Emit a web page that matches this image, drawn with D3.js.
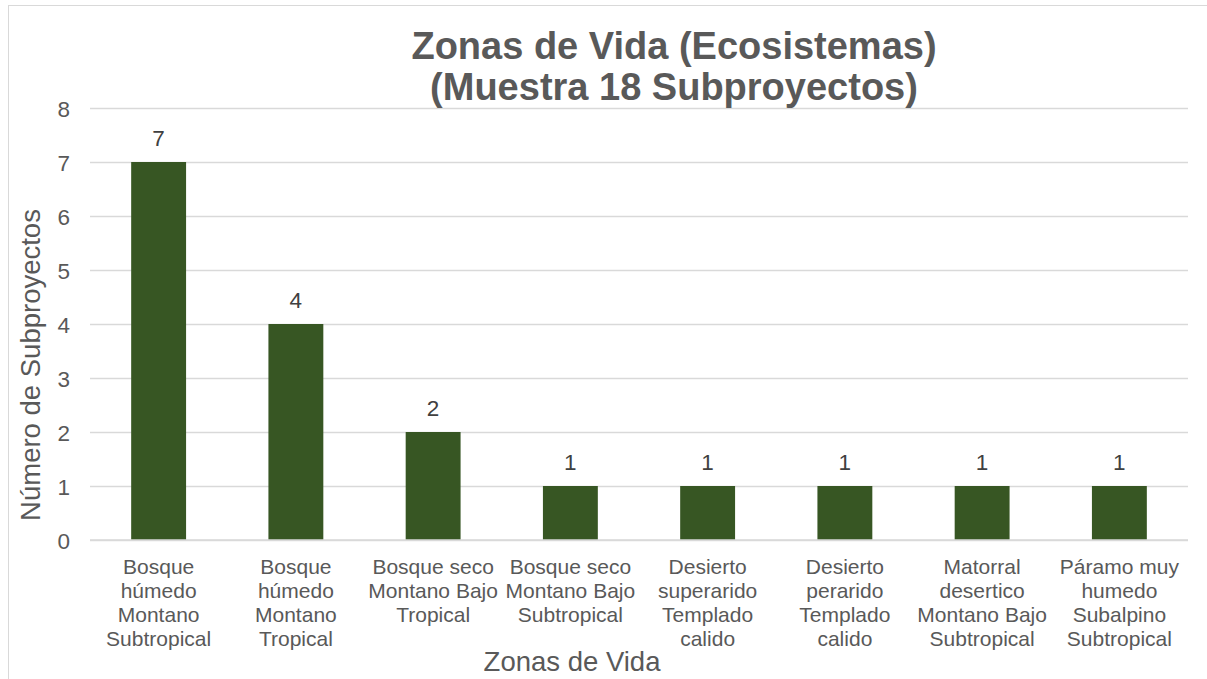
<!DOCTYPE html>
<html>
<head>
<meta charset="utf-8">
<script src="https://cdn.jsdelivr.net/npm/d3@7"></script>
<style>
  html, body { margin: 0; padding: 0; background: #fff; }
  svg { display: block; font-family: "Liberation Sans", Arial, sans-serif; }
</style>
</head>
<body>
<svg id="chart" width="1207" height="679"></svg>
<script>
const categories = [
  "Bosque húmedo Montano Subtropical",
  "Bosque húmedo Montano Tropical",
  "Bosque seco Montano Bajo Tropical",
  "Bosque seco Montano Bajo Subtropical",
  "Desierto superarido Templado calido",
  "Desierto perarido Templado calido",
  "Matorral desertico Montano Bajo Subtropical",
  "Páramo muy humedo Subalpino Subtropical"
];
const categoryLines = [
  ["Bosque", "húmedo", "Montano", "Subtropical"],
  ["Bosque", "húmedo", "Montano", "Tropical"],
  ["Bosque seco", "Montano Bajo", "Tropical"],
  ["Bosque seco", "Montano Bajo", "Subtropical"],
  ["Desierto", "superarido", "Templado", "calido"],
  ["Desierto", "perarido", "Templado", "calido"],
  ["Matorral", "desertico", "Montano Bajo", "Subtropical"],
  ["Páramo muy", "humedo", "Subalpino", "Subtropical"]
];
const values = [7, 4, 2, 1, 1, 1, 1, 1];
const yTicks = [0, 1, 2, 3, 4, 5, 6, 7, 8];
const titleLines = ["Zonas de Vida (Ecosistemas)", "(Muestra 18 Subproyectos)"];
const xTitle = "Zonas de Vida";
const yTitle = "Número de Subproyectos";

const svg = d3.select("#chart");
const W = 1207, H = 679;
const plot = { left: 90, right: 1188, top: 108, bottom: 540 };

// chart area border
svg.append("rect")
  .attr("x", 8.5).attr("y", 5.5)
  .attr("width", W + 20).attr("height", H + 20)
  .attr("fill", "#fff").attr("stroke", "#d9d9d9").attr("stroke-width", 1);

const x = d3.scaleBand()
  .domain(categories)
  .range([plot.left, plot.right])
  .paddingInner(0.6)
  .paddingOuter(0.3);

const y = d3.scaleLinear()
  .domain([0, 8])
  .range([plot.bottom, plot.top]);

// gridlines
const yAxis = d3.axisLeft(y)
  .tickValues(yTicks)
  .tickSize(-(plot.right - plot.left))
  .tickPadding(20)
  .tickFormat(d3.format("d"));

const gy = svg.append("g")
  .attr("transform", `translate(${plot.left},0)`)
  .call(yAxis);
gy.select(".domain").remove();
gy.selectAll(".tick line").attr("stroke", "#d9d9d9").attr("stroke-width", 1.3);
gy.selectAll(".tick text")
  .attr("fill", "#595959")
  .style("font-size", "22.5px")
  .attr("dy", "0.36em");

// bars
svg.append("g").selectAll("rect")
  .data(values)
  .join("rect")
  .attr("x", (d, i) => x(categories[i]))
  .attr("y", d => y(d))
  .attr("width", x.bandwidth())
  .attr("height", d => y(0) - y(d))
  .attr("fill", "#375623");

// baseline axis line
svg.append("line")
  .attr("x1", plot.left).attr("x2", plot.right)
  .attr("y1", y(0)).attr("y2", y(0))
  .attr("stroke", "#d9d9d9").attr("stroke-width", 1.3);

// value labels
svg.append("g").selectAll("text")
  .data(values)
  .join("text")
  .attr("x", (d, i) => x(categories[i]) + x.bandwidth() / 2)
  .attr("y", d => y(d) - 16)
  .attr("text-anchor", "middle")
  .attr("fill", "#404040")
  .style("font-size", "22.5px")
  .text(d => d);

// category labels
const xAxis = d3.axisBottom(x).tickSize(0).tickFormat("");
const gx = svg.append("g")
  .attr("transform", `translate(0,${plot.bottom})`)
  .call(xAxis);
gx.select(".domain").remove();
gx.selectAll(".tick").each(function(d, i) {
  const t = d3.select(this).append("text")
    .attr("text-anchor", "middle")
    .attr("fill", "#595959")
    .style("font-size", "21px");
  categoryLines[i].forEach((line, j) => {
    t.append("tspan").attr("x", 0).attr("y", 34 + j * 24).text(line);
  });
});

// title
const title = svg.append("text")
  .attr("text-anchor", "middle")
  .attr("fill", "#595959")
  .style("font-size", "38px")
  .style("font-weight", "bold");
titleLines.forEach((line, j) => {
  title.append("tspan").attr("x", 674).attr("y", 59 + j * 41).text(line);
});

// axis titles
svg.append("text")
  .attr("x", 572).attr("y", 671)
  .attr("text-anchor", "middle")
  .attr("fill", "#595959")
  .style("font-size", "27.5px")
  .text(xTitle);

svg.append("text")
  .attr("transform", "translate(40,365) rotate(-90)")
  .attr("text-anchor", "middle")
  .attr("fill", "#595959")
  .style("font-size", "27.5px")
  .text(yTitle);
</script>
</body>
</html>
